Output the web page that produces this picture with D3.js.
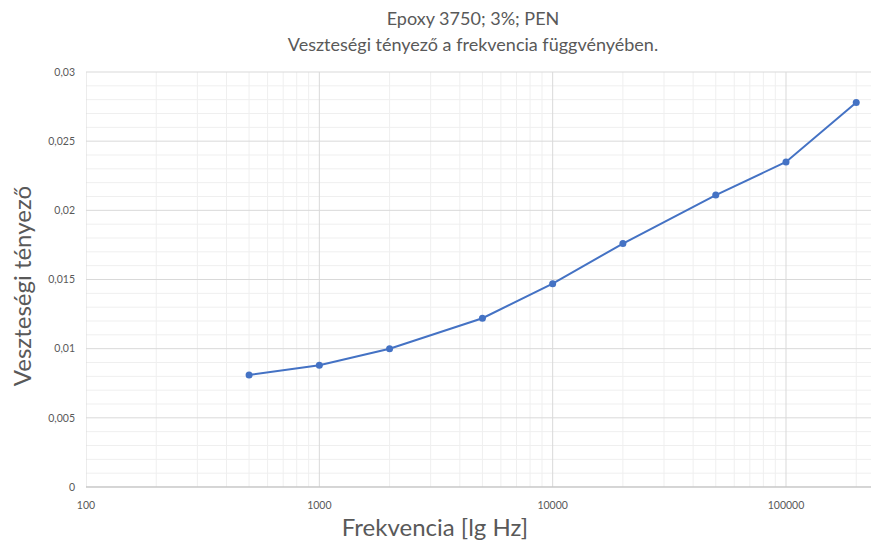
<!DOCTYPE html>
<html lang="hu">
<head>
<meta charset="UTF-8">
<title>Veszteségi tényező</title>
<script src="https://cdn.jsdelivr.net/npm/d3@7/dist/d3.min.js"></script>
<style>
    body { margin: 0; padding: 0; background: #fff; }
    text { font-family: Lato, "Open Sans", sans-serif; fill: #595959; }
</style>
</head>
<body>
<svg width="873" height="544" id="mainsvg"></svg>
<script>
    // data
    const freqs = [500, 1000, 2000, 5000, 10000, 20000, 50000, 100000, 200000];
    const lossFactor = [0.0081, 0.0088, 0.0100, 0.0122, 0.0147, 0.0176, 0.0211, 0.0235, 0.0278];
    const xTicks = [100, 1000, 10000, 100000];
    const yTicks = [0, 0.005, 0.01, 0.015, 0.02, 0.025, 0.03];
    const titleLines = ["Epoxy 3750; 3%; PEN", "Veszteségi tényező a frekvencia függvényében."];

    const svg = d3.select("#mainsvg");
    const pLeft = 86, pRight = 871, pTop = 72, pBottom = 487;

    // log axis, one decade ~233px; the plot runs off the right edge a bit
    const x = d3.scaleLog().domain([100, 100000]).range([pLeft, 786]);
    const y = d3.scaleLinear().domain([0, 0.03]).range([pBottom, pTop]);
    const fmt = v => String(v).replace(".", ",");

    svg.append("clipPath").attr("id", "plot")
        .append("rect").attr("x", pLeft).attr("y", pTop - 1)
        .attr("width", pRight - pLeft).attr("height", pBottom - pTop + 2);

    const grid = svg.append("g").attr("clip-path", "url(#plot)");

    // minor grid
    let minorX = [];
    for (let dec = 100; dec <= 100000; dec *= 10) {
        for (let k = 2; k <= 9; k++) minorX.push(dec * k);
    }
    grid.selectAll(".mx").data(minorX).join("line")
        .attr("x1", d => x(d)).attr("x2", d => x(d))
        .attr("y1", pTop).attr("y2", pBottom)
        .attr("stroke", "#efefef").attr("stroke-width", 1);
    const minorY = d3.range(1, 30).map(i => i / 1000).filter(v => Math.round(v * 1000) % 5 !== 0);
    grid.selectAll(".my").data(minorY).join("line")
        .attr("x1", pLeft).attr("x2", pRight)
        .attr("y1", d => y(d)).attr("y2", d => y(d))
        .attr("stroke", "#efefef").attr("stroke-width", 1);

    // major grid
    grid.selectAll(".gx").data(xTicks).join("line")
        .attr("x1", d => x(d)).attr("x2", d => x(d))
        .attr("y1", pTop).attr("y2", pBottom)
        .attr("stroke", "#d9d9d9").attr("stroke-width", 1);
    grid.selectAll(".gy").data(yTicks).join("line")
        .attr("x1", pLeft).attr("x2", pRight)
        .attr("y1", d => y(d)).attr("y2", d => y(d))
        .attr("stroke", "#d9d9d9").attr("stroke-width", 1);

    // bottom axis line
    svg.append("line").attr("x1", pLeft).attr("x2", pRight)
        .attr("y1", pBottom).attr("y2", pBottom)
        .attr("stroke", "#bfbfbf");

    // tick labels
    svg.append("g").selectAll("text").data(yTicks).join("text")
        .attr("x", 75).attr("y", d => y(d)).attr("dy", "0.35em")
        .attr("text-anchor", "end").attr("font-size", 10.5)
        .text(d => fmt(d));
    svg.append("g").selectAll("text").data(xTicks).join("text")
        .attr("x", d => x(d)).attr("y", 509)
        .attr("text-anchor", "middle").attr("font-size", 10.5)
        .text(d => d);

    // series
    const pts = freqs.map((f, i) => [f, lossFactor[i]]);
    svg.append("path").datum(pts)
        .attr("fill", "none").attr("stroke", "#4472c4").attr("stroke-width", 2)
        .attr("d", d3.line().x(d => x(d[0])).y(d => y(d[1])));
    svg.append("g").selectAll("circle").data(pts).join("circle")
        .attr("cx", d => x(d[0])).attr("cy", d => y(d[1])).attr("r", 3.5)
        .attr("fill", "#4472c4");

    // titles
    svg.append("g").selectAll("text").data(titleLines).join("text")
        .attr("x", 473).attr("y", (d, i) => 25 + i * 26)
        .attr("text-anchor", "middle").attr("font-size", 18)
        .text(d => d);
    svg.append("text").attr("x", 435).attr("y", 536)
        .attr("text-anchor", "middle").attr("font-size", 24)
        .text("Frekvencia [lg Hz]");
    svg.append("text")
        .attr("transform", "translate(31,286) rotate(-90)")
        .attr("text-anchor", "middle").attr("font-size", 24)
        .text("Veszteségi tényező");
</script>
</body>
</html>
